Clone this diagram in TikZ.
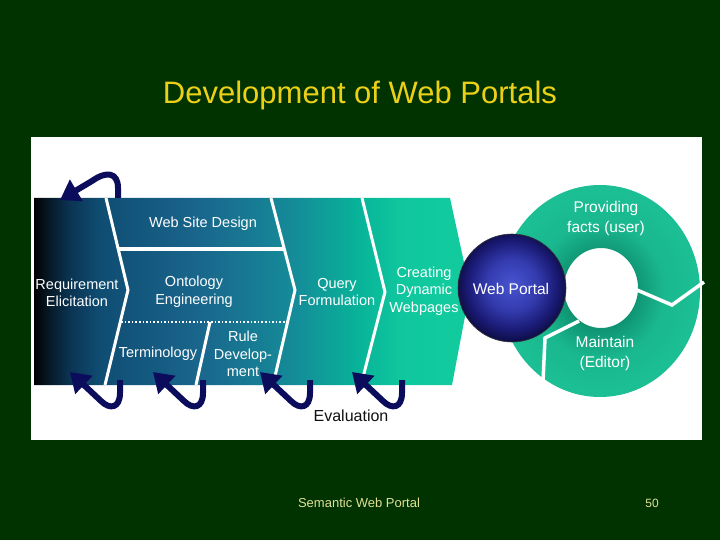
\documentclass[tikz,border=0pt]{standalone}
\usepackage{fontspec}
\setmainfont{Liberation Sans}
\usetikzlibrary{arrows.meta}

\definecolor{bg}{RGB}{0,51,0}
\definecolor{titleyellow}{RGB}{236,208,24}
\definecolor{footyellow}{RGB}{224,224,150}
\definecolor{navy}{RGB}{12,12,92}
\definecolor{evalcol}{RGB}{16,16,16}

\pgfdeclarehorizontalshading{bandshade}{100bp}{%
 rgb(0bp)=(0,0,0); rgb(25bp)=(0,0,0); rgb(26.3bp)=(0.02,0.08,0.12);
 rgb(29bp)=(0.04,0.2,0.32); rgb(32.5bp)=(0.06,0.3,0.45); rgb(44bp)=(0.1,0.4,0.55);
 rgb(55bp)=(0.08,0.55,0.6); rgb(62bp)=(0.03,0.7,0.6); rgb(67bp)=(0.06,0.78,0.62);
 rgb(75bp)=(0.07,0.8,0.62); rgb(100bp)=(0.07,0.8,0.62)}
\pgfdeclareradialshading{sphereshade}{\pgfpoint{0bp}{2bp}}{%
 rgb(0bp)=(0.28,0.33,0.82); rgb(12bp)=(0.2,0.23,0.68); rgb(21bp)=(0.1,0.1,0.45);
 rgb(25bp)=(0.06,0.06,0.3); rgb(50bp)=(0.06,0.06,0.3)}
\pgfdeclareradialshading{ringshade}{\pgfpoint{0bp}{0bp}}{%
 rgb(0bp)=(0.05,0.5,0.4); rgb(9bp)=(0.06,0.58,0.45); rgb(16bp)=(0.1,0.72,0.56);
 rgb(25bp)=(0.11,0.75,0.58); rgb(50bp)=(0.11,0.75,0.58)}

\tikzset{
  bandtxt/.style={text=white, font=\fontsize{14.5}{17.5}\selectfont, align=center, inner sep=0pt},
  ringtxt/.style={text=white, font=\fontsize{15.5}{20}\selectfont, align=center, inner sep=0pt},
  sepline/.style={white, line width=3pt},
  fb/.style={navy, line width=6pt, -{Triangle[width=24pt,length=19pt]}},
}

\begin{document}
\begin{tikzpicture}[x=1pt,y=-1pt]
\useasboundingbox (0,0) rectangle (720,540);
\fill[bg] (0,0) rectangle (720,540);

% title and footer
\node[text=titleyellow, font=\fontsize{31}{36}\selectfont] (title) at (360,95) {Development of Web Portals};
\node[text=footyellow, font=\fontsize{13}{15}\selectfont] (foot) at (359,503) {Semantic Web Portal};
\node[text=footyellow, font=\fontsize{12}{14}\selectfont] (page) at (652,503) {50};

% white panel
\fill[white] (31,137) rectangle (702,440);

% band
\shade[shading=bandshade] (34,198) -- (450,198) -- (470,290) -- (452,385) -- (34,385) -- cycle;
\draw[sepline] (106,198) -- (128,290) -- (105,385);
\draw[sepline] (271,198) -- (295,290) -- (273,385);
\draw[sepline] (362,198) -- (385,292) -- (361,385);
\draw[white, line width=4pt] (118,249) -- (284,249);
\draw[white, line width=1.6pt, dash pattern=on 1.6pt off 2pt] (121,322) -- (288,322);
\draw[sepline] (210,322) -- (196,385);

% ring
\shade[shading=ringshade, even odd rule] (600,291) ellipse [x radius=100, y radius=106]
   (601,288) ellipse [x radius=37, y radius=40];
\draw[white, line width=3.5pt] (637,290) -- (672,305) -- (704,282);
\draw[white, line width=3.5pt] (579,321) -- (545,338) -- (543,382);

% sphere
\shade[shading=sphereshade] (512,288) circle [radius=54];
\draw[black!80, line width=0.6pt] (512,288) circle [radius=54];

% labels
\node[bandtxt] (wsd) at (203,224) {Web Site Design};
\node[bandtxt] (req) at (77,293) {Requirement\\Elicitation};
\node[bandtxt] (onto) at (194,292) {Ontology\\Engineering};
\node[bandtxt] (query) at (337,292) {Query\\Formulation};
\node[bandtxt] (create) at (424,291) {Creating\\Dynamic\\Webpages};
\node[bandtxt] (term) at (158,354) {Terminology};
\node[bandtxt] (rule) at (243,354) {Rule\\Develop-\\ment};
\node[text=evalcol, font=\fontsize{16}{19}\selectfont, inner sep=0pt] (eval) at (351,416) {Evaluation};
\node[text=white, font=\fontsize{15.5}{19}\selectfont, inner sep=0pt] (portal) at (511,289) {Web Portal};
\node[ringtxt] (prov) at (606,218) {Providing\\facts (user)};
\node[ringtxt] (maint) at (605,353) {Maintain\\(Editor)};

% feedback arrows
\coordinate (t0s) at (118,198);
\coordinate (t0e) at (60,200);
\draw[fb] (t0s) -- (118,188) .. controls (118,172) and (106,171) .. (92,181) -- (t0e);

\coordinate (e1s) at (120,380); \coordinate (e1e) at (70,372);
\coordinate (e2s) at (203,380); \coordinate (e2e) at (153,372);
\coordinate (e3s) at (310,380); \coordinate (e3e) at (260,372);
\coordinate (e4s) at (402,380); \coordinate (e4e) at (352,372);
\draw[fb] (e1s) -- (120,393) .. controls (120,408) and (110,410) .. (101,401) -- (e1e);
\draw[fb] (e2s) -- (203,393) .. controls (203,408) and (193,410) .. (184,401) -- (e2e);
\draw[fb] (e3s) -- (310,393) .. controls (310,408) and (300,410) .. (291,401) -- (e3e);
\draw[fb] (e4s) -- (402,393) .. controls (402,408) and (392,410) .. (383,401) -- (e4e);
\end{tikzpicture}
\end{document}
